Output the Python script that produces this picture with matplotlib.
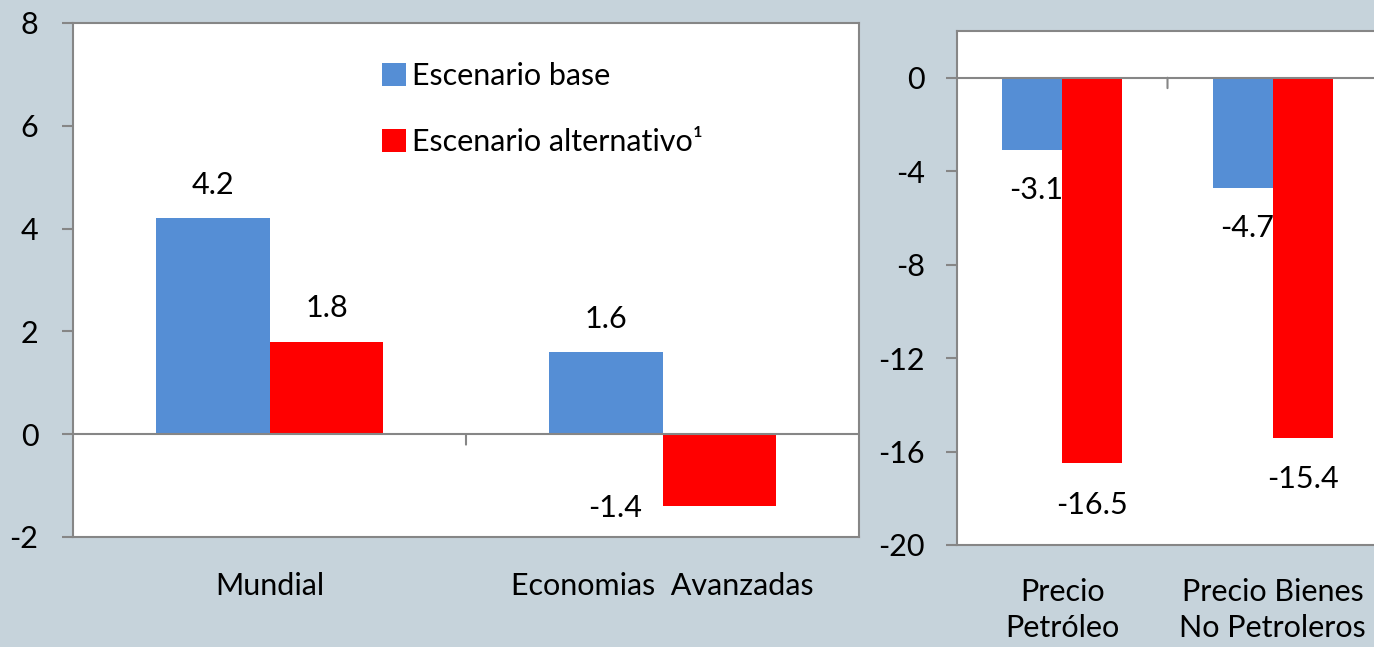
import numpy as np
import matplotlib.pyplot as plt

# datos
cat_left = ["Mundial", "Economias  Avanzadas"]
base_left = [4.2, 1.6]
alt_left = [1.8, -1.4]

cat_right = ["Precio\nPetróleo", "Precio Bienes\nNo Petroleros"]
base_right = [-3.1, -4.7]
alt_right = [-16.5, -15.4]

series_names = ["Escenario base", "Escenario alternativo\u00b9"]

blue = "#558ed5"
red = "#ff0000"
grey = "#868686"
bg = "#c6d3db"

plt.rcParams['font.family'] = ['Lato', 'DejaVu Sans']
plt.rcParams['font.size'] = 22
plt.rcParams['axes.unicode_minus'] = False

fig = plt.figure(figsize=(13.74, 6.47), dpi=100, facecolor=bg)

ax1 = fig.add_axes([73/1374, 110/647, 786/1374, 514/647])
ax2 = fig.add_axes([957/1374, 102/647, 421/1374, 514/647])


def style_axis(ax, ylim, yticks, tick_pad):
    ax.set_facecolor("white")
    for s in ax.spines.values():
        s.set_color(grey)
        s.set_linewidth(1.5)
    ax.set_ylim(*ylim)
    ax.set_yticks(yticks)
    ax.set_xlim(-0.5, 1.5)
    ax.tick_params(axis='y', length=8, width=1.5, color=grey, pad=tick_pad)
    ax.tick_params(axis='x', length=0)
    ax.axhline(0, color=grey, lw=1.5, zorder=3)
    # small category separator tick on the zero line
    ax.annotate('', xy=(0.5, 0), xytext=(0, -7.5), textcoords='offset points',
                arrowprops=dict(arrowstyle='-', color=grey, lw=1.5,
                                shrinkA=0, shrinkB=0), zorder=3)


# left panel
x = np.arange(len(cat_left))
w = 0.29
ax1.bar(x, base_left, width=-w, align='edge', color=blue, label=series_names[0], zorder=2)
ax1.bar(x, alt_left, width=w, align='edge', color=red, label=series_names[1], zorder=2)
style_axis(ax1, (-2, 8), np.arange(-2, 9, 2), 17)
ax1.set_xticks(x, cat_left)
ax1.tick_params(axis='x', pad=25)

for xi, v in zip(x - w/2, base_left):
    ax1.annotate(f"{v:.1f}", (xi, v), xytext=(0, 24),
                 textcoords='offset points', ha='center', va='center')
for xi, v in zip(x + w/2, alt_left):
    if v > 0:
        ax1.annotate(f"{v:.1f}", (xi, v), xytext=(0, 24),
                     textcoords='offset points', ha='center', va='center')
    else:
        ax1.annotate(f"{v:.1f}", (xi, v), xytext=(-75, -1.5),
                     textcoords='offset points', ha='center', va='center')

ax1.legend(loc='upper left', bbox_to_anchor=(382/1374, 1 - 62/647),
           bbox_transform=fig.transFigure, frameon=False,
           handlelength=0.78, handleheight=0.78, handletextpad=0.2,
           labelspacing=1.25, borderpad=0, borderaxespad=0)

# right panel
x = np.arange(len(cat_right))
w = 0.285
ax2.bar(x, base_right, width=-w, align='edge', color=blue, zorder=2)
ax2.bar(x, alt_right, width=w, align='edge', color=red, zorder=2)
style_axis(ax2, (-20, 2), np.arange(-20, 1, 4), 15)
ax2.spines['right'].set_visible(False)
ax2.set_xticks(x, cat_right, linespacing=1.35)
ax2.tick_params(axis='x', pad=24)

for xi, v in zip(x - w/2, base_right):
    ax2.annotate(f"{v:.1f}", (xi, v), xytext=(3, -29),
                 textcoords='offset points', ha='center', va='center')
for xi, v in zip(x + w/2, alt_right):
    ax2.annotate(f"{v:.1f}", (xi, v), xytext=(0, -30),
                 textcoords='offset points', ha='center', va='center')

fig.savefig("out.png", dpi=100, facecolor=bg)
